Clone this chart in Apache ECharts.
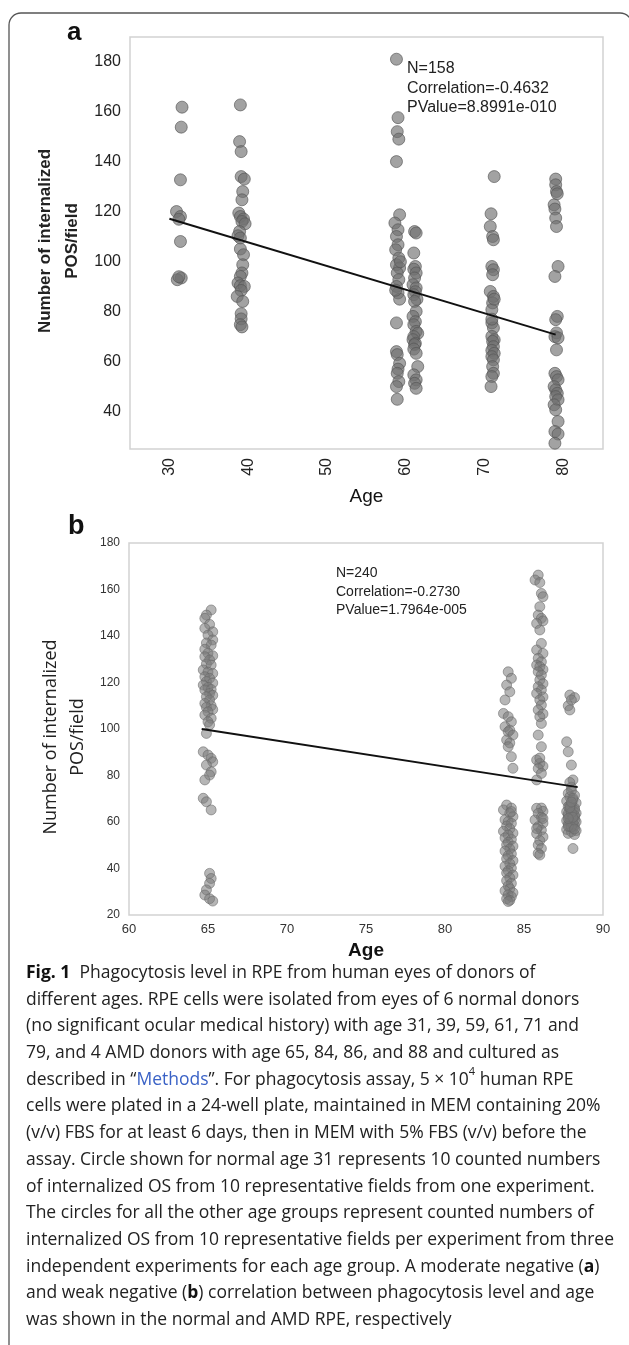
<!DOCTYPE html>
<html>
<head>
<meta charset="utf-8">
<script src="https://cdn.jsdelivr.net/npm/echarts@6/dist/echarts.min.js"></script>
<style>
  html, body { margin: 0; padding: 0; background: #fff; }
  #chart { width: 629px; height: 1345px; }
</style>
</head>
<body>
<div id="chart"></div>
<script>
// ---- panel a: normal donors, [age, internalized POS per field]
var normal31 = [[31.6,161.9],[31.5,153.9],[31.4,132.8],[30.9,120.1],[31.4,118.1],[31.2,117.0],[31.4,108.1],[31.5,93.5],[31.0,92.8],[31.2,94.0]];
var normal39 = [[39.0,162.8],[38.9,148.1],[39.1,144.1],[39.1,134.1],[39.5,133.1],[39.3,128.1],[39.2,124.8],[38.8,119.5],[39.0,118.1],[39.4,117.1],
                [39.2,116.1],[39.6,115.2],[38.9,112.1],[38.7,110.4],[39.0,109.5],[39.0,105.1],[39.4,102.8],[39.3,98.8],[39.2,95.5],[39.0,94.1],
                [38.7,91.5],[39.0,90.4],[39.5,90.1],[39.1,88.5],[38.6,86.1],[39.3,84.1],[39.1,79.2],[39.1,77.1],[39.0,74.8],[39.2,73.9]];
var normal59 = [[58.8,181.1],[59.0,157.7],[58.9,152.1],[59.1,149.1],[58.8,140.1],[59.2,118.8],[58.6,115.5],[59.0,112.8],[58.8,110.1],[59.0,106.8],
                [58.7,104.8],[59.1,101.5],[58.8,98.8],[59.2,97.5],[58.9,95.5],[59.1,92.8],[58.8,90.1],[59.0,87.5],[59.2,85.0],[58.8,75.5],
                [58.8,64.0],[58.9,62.8],[59.2,59.3],[59.0,57.0],[58.9,55.3],[59.1,52.0],[58.8,50.0],[58.9,44.9],[59.3,100.0],[58.7,88.6]];
var normal61 = [[61.1,112.1],[61.3,111.5],[61.0,103.5],[61.2,98.1],[61.0,97.0],[61.3,95.5],[61.1,93.5],[60.9,90.8],[61.3,89.5],[61.2,88.0],
                [61.0,86.8],[61.4,85.0],[61.1,84.1],[61.3,80.1],[60.9,78.1],[61.2,76.0],[61.0,74.8],[61.3,72.1],[61.5,71.3],[61.0,70.0],
                [60.9,68.8],[61.2,67.3],[61.1,66.8],[61.0,65.0],[61.3,63.3],[61.5,58.0],[61.0,54.7],[61.3,52.7],[61.1,51.3],[61.3,49.3]];
var normal71 = [[71.2,134.1],[70.8,119.2],[70.7,114.1],[71.0,110.1],[71.1,108.8],[70.9,98.1],[71.1,96.8],[71.0,94.8],[70.7,88.1],[71.1,86.1],
                [71.0,83.5],[70.9,80.8],[70.9,75.5],[71.1,73.5],[70.9,70.1],[71.2,68.7],[71.0,68.1],[71.1,66.0],[70.9,64.5],[71.2,63.3],
                [70.9,62.0],[71.1,60.7],[71.0,58.0],[71.1,55.3],[70.9,54.0],[70.8,50.0],[71.2,85.0],[70.9,77.0]];
var normal79 = [[79.0,133.1],[79.0,130.8],[79.1,128.1],[79.2,127.2],[78.8,122.8],[78.9,121.1],[79.0,117.5],[79.1,114.1],[79.3,98.1],[78.9,94.1],
                [79.2,78.1],[79.0,76.8],[79.1,71.5],[78.9,70.0],[79.3,69.5],[79.1,64.7],[78.9,55.3],[79.1,54.0],[79.3,52.7],[78.8,50.0],
                [79.0,48.7],[79.2,47.3],[79.0,46.0],[79.3,44.7],[78.8,42.7],[79.0,40.7],[79.3,36.0],[78.9,32.0],[79.3,31.0],[78.9,27.3]];
var trendA = [[30, 117.2], [79, 70.8]];
var statsA = ['N=158', 'Correlation=-0.4632', 'PValue=8.8991e-010'];
var xTicksA = [30, 40, 50, 60, 70, 80];
var yTicksA = [40, 60, 80, 100, 120, 140, 160, 180];

// ---- panel b: AMD donors
var amd65 = [[65.2,151.2],[64.9,149.0],[64.8,147.6],[65.1,145.0],[64.8,143.3],[65.3,141.8],[65.0,140.4],[65.3,138.3],[64.9,137.0],[65.2,136.1],
             [64.8,134.3],[65.0,132.6],[65.3,131.5],[64.8,131.1],[65.1,129.7],[64.9,128.0],[65.2,127.5],[64.7,125.4],[65.0,124.5],[65.3,123.9],
             [64.8,122.5],[65.1,121.8],[64.9,120.4],[65.3,119.8],[64.7,118.9],[65.0,117.9],[65.2,117.0],[64.8,116.8],[65.1,115.3],[65.3,114.5],
             [64.9,113.9],[65.1,112.5],[64.8,111.0],[65.2,110.0],[64.9,109.3],[65.3,108.4],[65.0,107.4],[64.8,106.0],[65.2,104.6],[65.0,103.1],
             [65.1,101.8],[64.9,98.1],[64.7,90.2],[65.0,88.8],[65.2,87.4],[65.3,85.9],[64.9,84.5],[65.2,81.6],[65.1,80.2],[64.8,78.1],
             [64.7,70.2],[64.9,68.7],[65.2,65.2],[65.1,37.9],[65.2,35.7],[65.1,33.6],[64.9,30.8],[64.8,28.6],[65.1,27.0],[65.3,26.0]];
var amd84 = [[84.0,124.6],[84.2,121.8],[83.9,118.9],[84.1,116.0],[83.8,112.5],[83.7,106.7],[84.0,105.3],[84.2,103.1],[83.8,101.0],[84.1,99.5],
             [84.0,98.8],[84.3,97.4],[83.9,95.3],[84.1,94.0],[84.0,92.4],[84.2,88.1],[84.3,83.1],
             [83.9,67.3],[84.2,66.0],[83.7,65.2],[84.1,63.8],[84.3,62.3],[83.8,61.0],[84.0,60.2],[84.2,59.4],[83.9,58.3],[84.1,57.1],
             [83.7,56.0],[84.3,55.2],[84.0,54.4],[83.8,53.2],[84.2,52.5],[84.0,51.3],[83.9,50.2],[84.3,49.6],[84.1,48.4],[83.8,47.5],
             [84.2,46.3],[84.0,45.5],[83.9,44.2],[84.3,43.4],[84.1,42.1],[83.8,41.0],[84.2,40.2],[84.0,39.0],[83.9,38.1],[84.3,37.2],
             [84.1,36.0],[83.9,34.8],[84.2,33.6],[84.0,32.5],[84.1,31.3],[83.8,30.4],[84.3,29.6],[84.0,28.7],[84.2,27.9],[83.9,27.0],
             [84.1,26.3],[84.0,25.8],[84.2,64.5]];
var amd86 = [[85.9,166.2],[85.7,164.1],[86.0,163.0],[86.1,158.3],[86.2,156.9],[86.0,152.6],[85.9,149.0],[86.1,147.6],[86.2,146.5],[85.8,145.4],
             [86.0,142.6],[86.1,136.8],[85.8,134.0],[86.2,132.5],[85.9,130.4],[86.1,128.9],[85.8,127.5],[86.0,126.8],[86.2,125.6],[85.9,124.6],
             [86.1,123.2],[86.0,121.1],[86.2,119.5],[85.9,118.2],[86.1,116.8],[85.8,115.3],[86.2,113.8],[86.0,112.5],[86.1,110.3],[85.9,108.2],
             [86.2,106.5],[86.0,105.3],[86.1,102.4],[85.9,97.4],[86.1,92.4],[85.8,86.7],[86.0,85.2],[86.2,84.0],[85.9,83.0],[86.1,80.9],
             [85.8,78.1],[86.0,87.5],[86.1,66.0],[85.8,65.9],[86.2,64.6],[85.9,63.7],[86.1,62.0],[85.7,60.9],[86.2,59.5],[85.9,58.0],
             [86.1,56.5],[85.8,55.0],[86.2,53.6],[86.0,52.0],[85.9,50.1],[86.1,48.6],[85.9,46.5],[86.2,61.5],[85.8,57.2],[86.0,45.8]];
var amd88 = [[87.9,114.6],[88.2,113.5],[88.0,112.5],[87.8,110.0],[87.9,108.2],[87.7,94.5],[87.8,90.2],[88.0,84.5],[88.1,78.1],[88.0,75.0],
             [87.8,72.3],[88.2,71.5],[87.9,70.8],[88.1,69.5],[87.7,69.0],[88.3,68.2],[88.0,67.5],[87.8,66.6],[88.2,66.0],[87.9,65.4],
             [88.1,64.8],[87.7,64.4],[88.3,63.8],[88.0,63.2],[87.8,62.6],[88.2,62.3],[87.9,61.8],[88.1,61.2],[87.7,60.6],[88.3,60.1],
             [88.0,59.6],[87.8,59.0],[88.2,58.5],[87.9,58.0],[88.1,57.4],[87.7,56.8],[88.3,56.3],[88.0,55.8],[87.8,55.1],[88.2,54.6],
             [88.1,48.6],[88.0,73.5],[87.9,77.0],[88.2,62.8],[88.0,61.0],[87.9,60.3],[88.1,59.2],[88.0,57.9],[87.8,63.5],[88.2,65.2],
             [87.9,67.1],[88.1,70.2],[87.8,58.2],[88.2,60.8],[88.0,64.0],[87.9,66.2],[88.1,62.0],[88.0,68.6],[87.8,61.5],[88.2,57.0]];
var trendB = [[64.6, 100], [88.4, 75]];
var statsB = ['N=240', 'Correlation=-0.2730', 'PValue=1.7964e-005'];

var yTitle = 'Number of internalized\nPOS/field';

// caption, one entry per printed line ({b|..} bold, {m|..} link, {s|..} superscript)
var caption = [
  '{b|Fig. 1}  Phagocytosis level in RPE from human eyes of donors of',
  'different ages. RPE cells were isolated from eyes of 6 normal donors',
  '(no significant ocular medical history) with age 31, 39, 59, 61, 71 and',
  '79, and 4 AMD donors with age 65, 84, 86, and 88 and cultured as',
  'described in \u201c{m|Methods}\u201d. For phagocytosis assay, 5 \u00d7 10{s|4} human RPE',
  'cells were plated in a 24-well plate, maintained in MEM containing 20%',
  '(v/v) FBS for at least 6 days, then in MEM with 5% FBS (v/v) before the',
  'assay. Circle shown for normal age 31 represents 10 counted numbers',
  'of internalized OS from 10 representative fields from one experiment.',
  'The circles for all the other age groups represent counted numbers of',
  'internalized OS from 10 representative fields per experiment from three',
  'independent experiments for each age group. A moderate negative ({b|a})',
  'and weak negative ({b|b}) correlation between phagocytosis level and age',
  'was shown in the normal and AMD RPE, respectively'
];

var myChart = echarts.init(document.getElementById('chart'));

var arial = 'Liberation Sans, Arial, sans-serif';
var boxColor = '#d2d2d2';
var capSize = 17.5;

var graphics = [
  {
    type: 'rect', silent: true,
    shape: { x: 9, y: 13, width: 623, height: 1400, r: 12 },
    style: { fill: 'none', stroke: '#555', lineWidth: 1.3 }
  },
  { type: 'text', x: 67, y: 33, style: { text: 'a', font: 'bold 26px ' + arial, fill: '#111', verticalAlign: 'middle' } },
  { type: 'text', x: 68, y: 527, style: { text: 'b', font: 'bold 27px ' + arial, fill: '#111', verticalAlign: 'middle' } },
  {
    type: 'text', x: 407, y: 59,
    style: { text: statsA.join('\n'), font: '16px ' + arial, lineHeight: 19.5, fill: '#222', verticalAlign: 'top' }
  },
  {
    type: 'text', x: 336, y: 564,
    style: { text: statsB.join('\n'), font: '14px ' + arial, lineHeight: 18.5, fill: '#222', verticalAlign: 'top' }
  },
  {
    type: 'text', x: 59, y: 241, rotation: Math.PI / 2,
    style: { text: yTitle, font: 'bold 17px ' + arial, lineHeight: 27, fill: '#222', align: 'center', verticalAlign: 'middle' }
  },
  {
    type: 'text', x: 64, y: 737, rotation: Math.PI / 2,
    style: { text: yTitle, font: '18px "Open Sans", sans-serif', lineHeight: 27, fill: '#222', align: 'center', verticalAlign: 'middle' }
  }
];

caption.forEach(function (line, i) {
  graphics.push({
    type: 'text', x: 26, y: 973 + i * 26.7,
    style: {
      text: line, font: capSize + 'px "Open Sans", sans-serif', fill: '#222',
      verticalAlign: 'middle', lineHeight: 26,
      rich: {
        b: { fontWeight: 'bold', fontSize: capSize, fontFamily: 'Open Sans', fill: '#111' },
        m: { fontSize: capSize, fontFamily: 'Open Sans', fill: '#3a62c6' },
        s: { fontSize: 11, fontFamily: 'Open Sans', fill: '#222', verticalAlign: 'top', padding: [0, 0, 12, 0] }
      }
    }
  });
});

myChart.setOption({
  animation: false,
  grid: [
    { left: 130, top: 37, width: 473, height: 412, show: true, borderColor: boxColor, borderWidth: 1.5, backgroundColor: '#fff' },
    { left: 129, top: 543, width: 474, height: 372, show: true, borderColor: boxColor, borderWidth: 1.5, backgroundColor: '#fff' }
  ],
  xAxis: [
    {
      gridIndex: 0, type: 'value', min: 25, max: 85, interval: 5,
      name: 'Age', nameLocation: 'middle', nameGap: 38,
      nameTextStyle: { fontFamily: arial, fontSize: 19, color: '#111' },
      axisLine: { show: false }, axisTick: { show: false }, splitLine: { show: false },
      axisLabel: {
        rotate: 90, margin: 9, fontFamily: arial, fontSize: 16, color: '#222',
        formatter: function (v) { return xTicksA.indexOf(v) >= 0 ? String(v) : ''; }
      }
    },
    {
      gridIndex: 1, type: 'value', min: 60, max: 90, interval: 5,
      name: 'Age', nameLocation: 'middle', nameGap: 26,
      nameTextStyle: { fontFamily: arial, fontSize: 19, fontWeight: 'bold', color: '#111' },
      axisLine: { show: false }, axisTick: { show: false }, splitLine: { show: false },
      axisLabel: { margin: 8, fontFamily: arial, fontSize: 13, color: '#333' }
    }
  ],
  yAxis: [
    {
      gridIndex: 0, type: 'value', min: 25, max: 190, interval: 5,
      axisLine: { show: false }, axisTick: { show: false }, splitLine: { show: false },
      axisLabel: {
        margin: 9, fontFamily: arial, fontSize: 16, color: '#222',
        formatter: function (v) { return yTicksA.indexOf(v) >= 0 ? String(v) : ''; }
      }
    },
    {
      gridIndex: 1, type: 'value', min: 20, max: 180, interval: 20,
      axisLine: { show: false }, axisTick: { show: false }, splitLine: { show: false },
      axisLabel: { margin: 9, fontFamily: arial, fontSize: 12, color: '#333' }
    }
  ],
  series: [
    {
      type: 'scatter', xAxisIndex: 0, yAxisIndex: 0,
      data: normal31.concat(normal39, normal59, normal61, normal71, normal79),
      symbolSize: 12,
      itemStyle: { color: '#707070', opacity: 0.65, borderColor: '#555', borderWidth: 1 }
    },
    {
      type: 'line', xAxisIndex: 0, yAxisIndex: 0, data: trendA, z: 5,
      showSymbol: false, symbol: 'none', lineStyle: { color: '#111', width: 2 }
    },
    {
      type: 'scatter', xAxisIndex: 1, yAxisIndex: 1,
      data: amd65.concat(amd84, amd86, amd88),
      symbolSize: 10,
      itemStyle: { color: '#7a7a7a', opacity: 0.55, borderColor: '#666', borderWidth: 1 }
    },
    {
      type: 'line', xAxisIndex: 1, yAxisIndex: 1, data: trendB, z: 5,
      showSymbol: false, symbol: 'none', lineStyle: { color: '#111', width: 2 }
    }
  ],
  graphic: graphics
});
</script>
</body>
</html>
